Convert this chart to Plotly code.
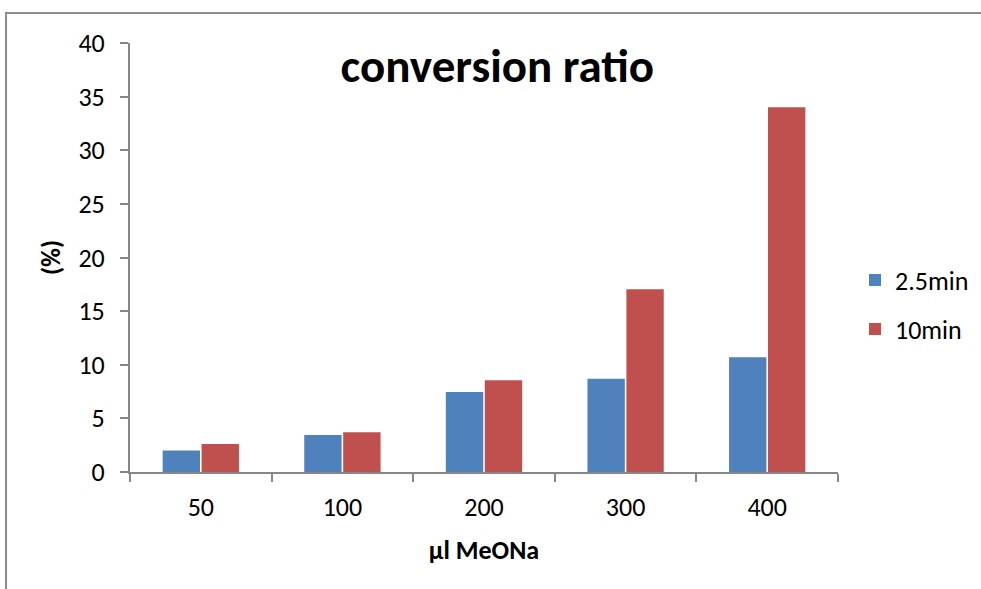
import plotly.graph_objects as go

categories = ["50", "100", "200", "300", "400"]
series_25 = [2.0, 3.45, 7.45, 8.7, 10.7]
series_10 = [2.6, 3.7, 8.55, 17.05, 34.0]
series_names = ["2.5min", "10min"]
colors = ["#4F81BD", "#C0504D"]

FONT = "Carlito, Calibri, Lato, sans-serif"

fig = go.Figure()
for name, vals, col, grp in zip(series_names, [series_25, series_10], colors, ["a", "b"]):
    fig.add_trace(go.Bar(
        x=categories, y=vals, name=name, marker_color=col,
        marker_line_width=0, legendgroup=grp,
    ))

fig.update_layout(
    width=981, height=589,
    margin=dict(l=130, r=143, t=43, b=117, autoexpand=False),
    paper_bgcolor="white", plot_bgcolor="white",
    barmode="group", bargap=0.45, bargroupgap=0.04,
    font=dict(family=FONT, size=26, color="#000000"),
    title=dict(text="<b>conversion ratio</b>", x=0.507, xanchor="center",
               y=0.889, yanchor="middle", font=dict(size=47, family=FONT)),
    legend=dict(x=1.024, y=0.39, xanchor="left", yanchor="middle",
                font=dict(size=26), tracegroupgap=12, bgcolor="rgba(0,0,0,0)"),
    showlegend=True,
)
fig.update_xaxes(
    type="category", showline=True, linecolor="#868686", linewidth=2,
    ticks="outside", ticklen=8, tickcolor="#868686", tickwidth=2,
    tickson="boundaries", showgrid=False, ticklabelstandoff=11,
    title=dict(text="<b>µl MeONa</b>", font=dict(size=26), standoff=19),
)
fig.update_yaxes(
    range=[0, 40], dtick=5, showline=True, linecolor="#868686", linewidth=2,
    ticks="outside", ticklen=8, tickcolor="#868686", tickwidth=2,
    showgrid=False, zeroline=False, ticklabelstandoff=10,
    title=dict(text="<b>(%)</b>", font=dict(size=26), standoff=10),
)
fig.add_shape(type="rect", xref="paper", yref="paper",
              x0=-0.1751, x1=1.4, y0=-0.5, y1=1.0699,
              line=dict(color="#8c8c8c", width=2), fillcolor="rgba(0,0,0,0)",
              layer="below")

fig.write_html("out.html")
